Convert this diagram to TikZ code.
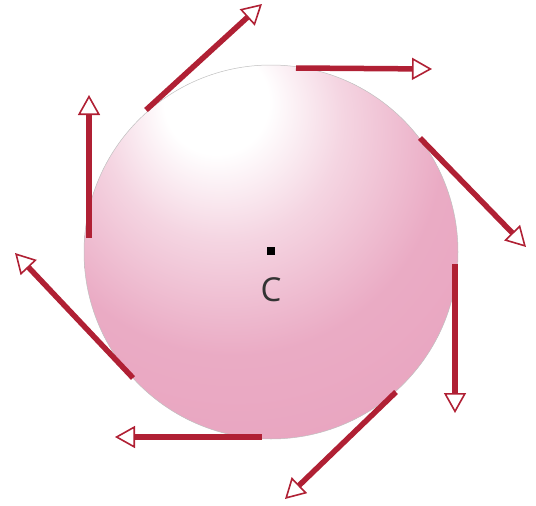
\documentclass[tikz,border=0pt]{standalone}
\usepackage{fontspec}
\setsansfont{Open Sans}
\usetikzlibrary{arrows.meta}
\definecolor{pinkc}{RGB}{232,162,190}
\definecolor{pinkedge}{RGB}{226,150,180}
\definecolor{arrowred}{RGB}{176,32,52}
\pgfdeclareradialshading{spherepink}{\pgfpoint{-8bp}{22bp}}{%
  color(0bp)=(white);
  color(7bp)=(white);
  color(16bp)=(pinkc!45!white);
  color(28bp)=(pinkc!90!white);
  color(45bp)=(pinkc);
  color(80bp)=(pinkedge)}
\tikzset{
  sphere/.style={circle, minimum size=374pt, inner sep=0pt, shade, shading=spherepink, draw=gray!50, line width=0.5pt},
  tang/.style={draw=arrowred, line width=5.5pt,
    -{Triangle[length=20pt, width=22pt, fill=white, line width=1.6pt]}},
  centerdot/.style={fill=black, minimum size=8pt, inner sep=0pt, rectangle},
  clabel/.style={font=\sffamily\fontsize{33}{33}\selectfont, text=black!80, inner sep=0pt}
}
\begin{document}
\begin{tikzpicture}[x=1pt,y=-1pt]
  \useasboundingbox (0,0) rectangle (536,506);
  \node[sphere] (ball) at (271,252) {};
  \node[centerdot] (c) at (271,251) {};
  \node[clabel] (clab) at (271,290) {C};
  % tangent arrows
  \coordinate (s1) at (296,68);  \coordinate (t1) at (432,69);
  \coordinate (s2) at (146,110); \coordinate (t2) at (262,4);
  \coordinate (s3) at (89,238);  \coordinate (t3) at (89,95);
  \coordinate (s4) at (133,378); \coordinate (t4) at (15,253);
  \coordinate (s5) at (262,437); \coordinate (t5) at (115,437);
  \coordinate (s6) at (396,392); \coordinate (t6) at (285,499);
  \coordinate (s7) at (455,264); \coordinate (t7) at (455,413);
  \coordinate (s8) at (420,138); \coordinate (t8) at (526,247);
  \draw[tang] (s1) -- (t1);
  \draw[tang] (s2) -- (t2);
  \draw[tang] (s3) -- (t3);
  \draw[tang] (s4) -- (t4);
  \draw[tang] (s5) -- (t5);
  \draw[tang] (s6) -- (t6);
  \draw[tang] (s7) -- (t7);
  \draw[tang] (s8) -- (t8);
\end{tikzpicture}
\end{document}
